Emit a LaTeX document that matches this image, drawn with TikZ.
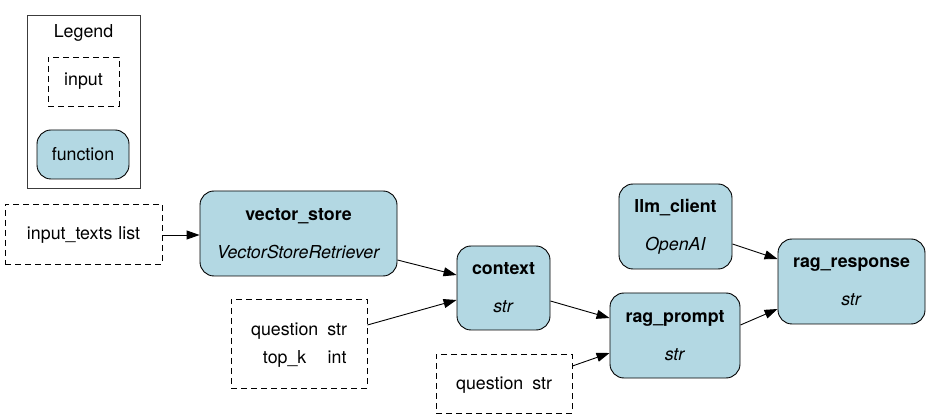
\documentclass[tikz,border=0pt]{standalone}
\usepackage{fontspec}
\setmainfont{TeX Gyre Heros}
\usetikzlibrary{arrows.meta,calc}
\definecolor{fnblue}{RGB}{179,216,227}
\definecolor{legendgray}{RGB}{60,60,60}
\tikzset{
  fnbox/.style={draw=black, fill=fnblue, rounded corners=14pt, line width=0.9pt, align=center, inner sep=0pt, font=\fontsize{17.8}{38}\selectfont},
  inbox/.style={draw=black, dashed, dash pattern=on 6pt off 4pt, line width=0.9pt, align=center, inner sep=0pt, font=\fontsize{17.8}{28}\selectfont},
  legendbox/.style={draw=legendgray, line width=1pt, inner sep=0pt},
  edge/.style={draw=black, line width=0.9pt, -{Triangle[length=13pt,width=9pt]}},
}
\begin{document}
\begin{tikzpicture}[x=1pt,y=-1pt]
\useasboundingbox (0,0) rectangle (931,419);
% legend
\node[legendbox, minimum width=113pt, minimum height=173pt] (legend) at (83.5,102.5) {};
\node[font=\fontsize{17.8}{20}\selectfont] (legendtitle) at (83.5,33) {Legend};
\node[inbox, minimum width=71pt, minimum height=49pt] (leginput) at (83.5,81.5) {input};
\node[fnbox, minimum width=92pt, minimum height=49pt] (legfn) at (83,154.5) {function};
% inputs
\node[inbox, minimum width=157pt, minimum height=60pt] (it) at (83.5,234) {\begin{tabular}{@{}c@{\hspace{6pt}}c@{}}input\_texts & list\end{tabular}};
\node[inbox, minimum width=136pt, minimum height=89pt] (qt) at (299,343.5) {\begin{tabular}{@{}c@{\hspace{9pt}}c@{}}question & str\\top\_k & int\end{tabular}};
\node[inbox, minimum width=136pt, minimum height=59pt] (qq) at (504,383.5) {\begin{tabular}{@{}c@{\hspace{9pt}}c@{}}question & str\end{tabular}};
% functions
\node[fnbox, minimum width=197pt, minimum height=85pt] (vs) at (298.5,233.5) {\textbf{vector\_store}\\\textit{VectorStoreRetriever}};
\node[fnbox, minimum width=93pt, minimum height=84pt] (ctx) at (503.5,288) {\textbf{context}\\\textit{str}};
\node[fnbox, minimum width=113pt, minimum height=85pt] (llm) at (675.5,226.5) {\textbf{llm\_client}\\\textit{OpenAI}};
\node[fnbox, minimum width=130pt, minimum height=85pt] (rp) at (675,335.5) {\textbf{rag\_prompt}\\\textit{str}};
\node[fnbox, minimum width=147pt, minimum height=85pt] (rr) at (851.5,281.5) {\textbf{rag\_response}\\\textit{str}};
% edges
\draw[edge] ([yshift=-1pt]it.east) -- ([yshift=-1pt]it.east -| vs.west);
\draw[edge] ([yshift=-26.5pt]vs.east) -- ([yshift=13pt]ctx.west);
\draw[edge] ([yshift=18.5pt]qt.east) -- ([yshift=-12pt]ctx.west);
\draw[edge] ([yshift=-13pt]ctx.east) -- ([yshift=17.5pt]rp.west);
\draw[edge] ([yshift=17.5pt]qq.east) -- ([yshift=-17.5pt]rp.west);
\draw[edge] ([yshift=-17.5pt]llm.east) -- ([yshift=22.5pt]rr.west);
\draw[edge] ([yshift=10.5pt]rp.east) -- ([yshift=-27.5pt]rr.west);
\end{tikzpicture}
\end{document}
